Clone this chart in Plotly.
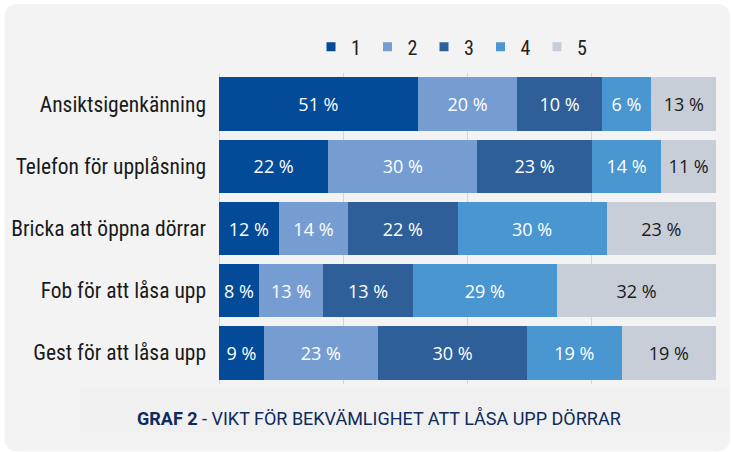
import plotly.graph_objects as go

# ---- data ----
categories = ["Ansiktsigenkänning", "Telefon för upplåsning", "Bricka att öppna dörrar",
              "Fob för att låsa upp", "Gest för att låsa upp"]
levels = ["1", "2", "3", "4", "5"]
# bar lengths (percent of row) as drawn
level1 = [40, 22, 12, 8, 9]
level2 = [20, 30, 14, 13, 23]
level3 = [17, 23, 22, 18, 30]
level4 = [10, 14, 30, 29, 19]
level5 = [13, 11, 22, 32, 19]
# labels printed on the segments
label1 = ["51 %", "22 %", "12 %", "8 %", "9 %"]
label2 = ["20 %", "30 %", "14 %", "13 %", "23 %"]
label3 = ["10 %", "23 %", "22 %", "13 %", "30 %"]
label4 = ["6 %", "14 %", "30 %", "29 %", "19 %"]
label5 = ["13 %", "11 %", "23 %", "32 %", "19 %"]
title_bold = "GRAF 2"
title_rest = " - VIKT FÖR BEKVÄMLIGHET ATT LÅSA UPP DÖRRAR"

series_values = [level1, level2, level3, level4, level5]
series_labels = [label1, label2, label3, label4, label5]
colors = ["#034a99", "#759dd2", "#2e5f98", "#4a96d0", "#c7ced8"]
text_colors = ["#ffffff", "#ffffff", "#ffffff", "#ffffff", "#1a1a1a"]

W, H = 731, 452
ML, MR, MT, MB = 219, 15, 73, 68
PW, PH = W - ML - MR, H - MT - MB

def px(x):
    return (x - ML) / PW

def py(y):
    return (H - MB - y) / PH

LABEL_FONT = "Liberation Sans Narrow, Roboto Condensed, DejaVu Sans Condensed, sans-serif"
TITLE_FONT = "Roboto, sans-serif"
BAR_FONT = "Open Sans, sans-serif"

fig = go.Figure()
for name, vals, labs, col, tcol in zip(levels, series_values, series_labels, colors, text_colors):
    fig.add_trace(go.Bar(
        y=categories, x=vals, orientation="h", name=name,
        marker=dict(color=col, line=dict(width=0)),
        text=labs, textposition="inside", insidetextanchor="middle",
        textangle=0, constraintext="none",
        textfont=dict(family=BAR_FONT, size=18, color=tcol),
        hoverinfo="skip", showlegend=False,
    ))
for name, col in zip(levels, colors):
    fig.add_trace(go.Scatter(
        x=[None], y=[None], mode="markers", name=name,
        marker=dict(symbol="square", size=9, color=col),
        showlegend=True, hoverinfo="skip",
    ))

def rounded_rect(x0, y0, x1, y1, r):
    return (f"M {px(x0 + r)} {py(y0)} L {px(x1 - r)} {py(y0)} "
            f"Q {px(x1)} {py(y0)} {px(x1)} {py(y0 + r)} "
            f"L {px(x1)} {py(y1 - r)} Q {px(x1)} {py(y1)} {px(x1 - r)} {py(y1)} "
            f"L {px(x0 + r)} {py(y1)} Q {px(x0)} {py(y1)} {px(x0)} {py(y1 - r)} "
            f"L {px(x0)} {py(y0 + r)} Q {px(x0)} {py(y0)} {px(x0 + r)} {py(y0)} Z")

shapes = [
    dict(type="path", xref="paper", yref="paper", path=rounded_rect(4.5, 4, 730, 451.5, 14),
         fillcolor="#f3f3f3", line=dict(width=0), layer="below"),
    dict(type="rect", xref="paper", yref="paper", x0=px(80), x1=px(729), y0=py(432), y1=py(387),
         fillcolor="#f0f0f0", line=dict(width=0), layer="below"),
]

fig.update_layout(
    width=W, height=H,
    margin=dict(l=ML, r=MR, t=MT, b=MB, pad=0),
    paper_bgcolor="#ffffff", plot_bgcolor="rgba(0,0,0,0)",
    barmode="stack", bargap=0.14,
    shapes=shapes,
    showlegend=True,
    legend=dict(orientation="h", x=px(311), xanchor="left", y=py(46.7), yanchor="middle",
                font=dict(family=LABEL_FONT, size=20, color="#222222"),
                bgcolor="rgba(0,0,0,0)", entrywidth=11.5, traceorder="normal",
                itemclick=False, itemdoubleclick=False),
    xaxis=dict(range=[0, 100], dtick=25, tick0=0, showgrid=True, gridcolor="#d6d6d6", gridwidth=1,
               showticklabels=False, zeroline=True, zerolinecolor="#d6d6d6", zerolinewidth=1,
               showline=False, fixedrange=True),
    yaxis=dict(autorange="reversed", showgrid=False, ticks="", ticklabelstandoff=12,
               tickfont=dict(family=LABEL_FONT, size=21.5, color="#1a1a1a"), showline=False,
               fixedrange=True),
    annotations=[dict(
        xref="paper", yref="paper", x=px(135), y=py(418), xanchor="left", yanchor="middle",
        text=f"<b>{title_bold}</b>{title_rest}", showarrow=False,
        font=dict(family=TITLE_FONT, size=18, color="#0f2a5c"),
    )],
    hovermode=False,
)

fig.write_html("out.html", config={"displayModeBar": False},
               post_script="document.body.style.margin='0';")
